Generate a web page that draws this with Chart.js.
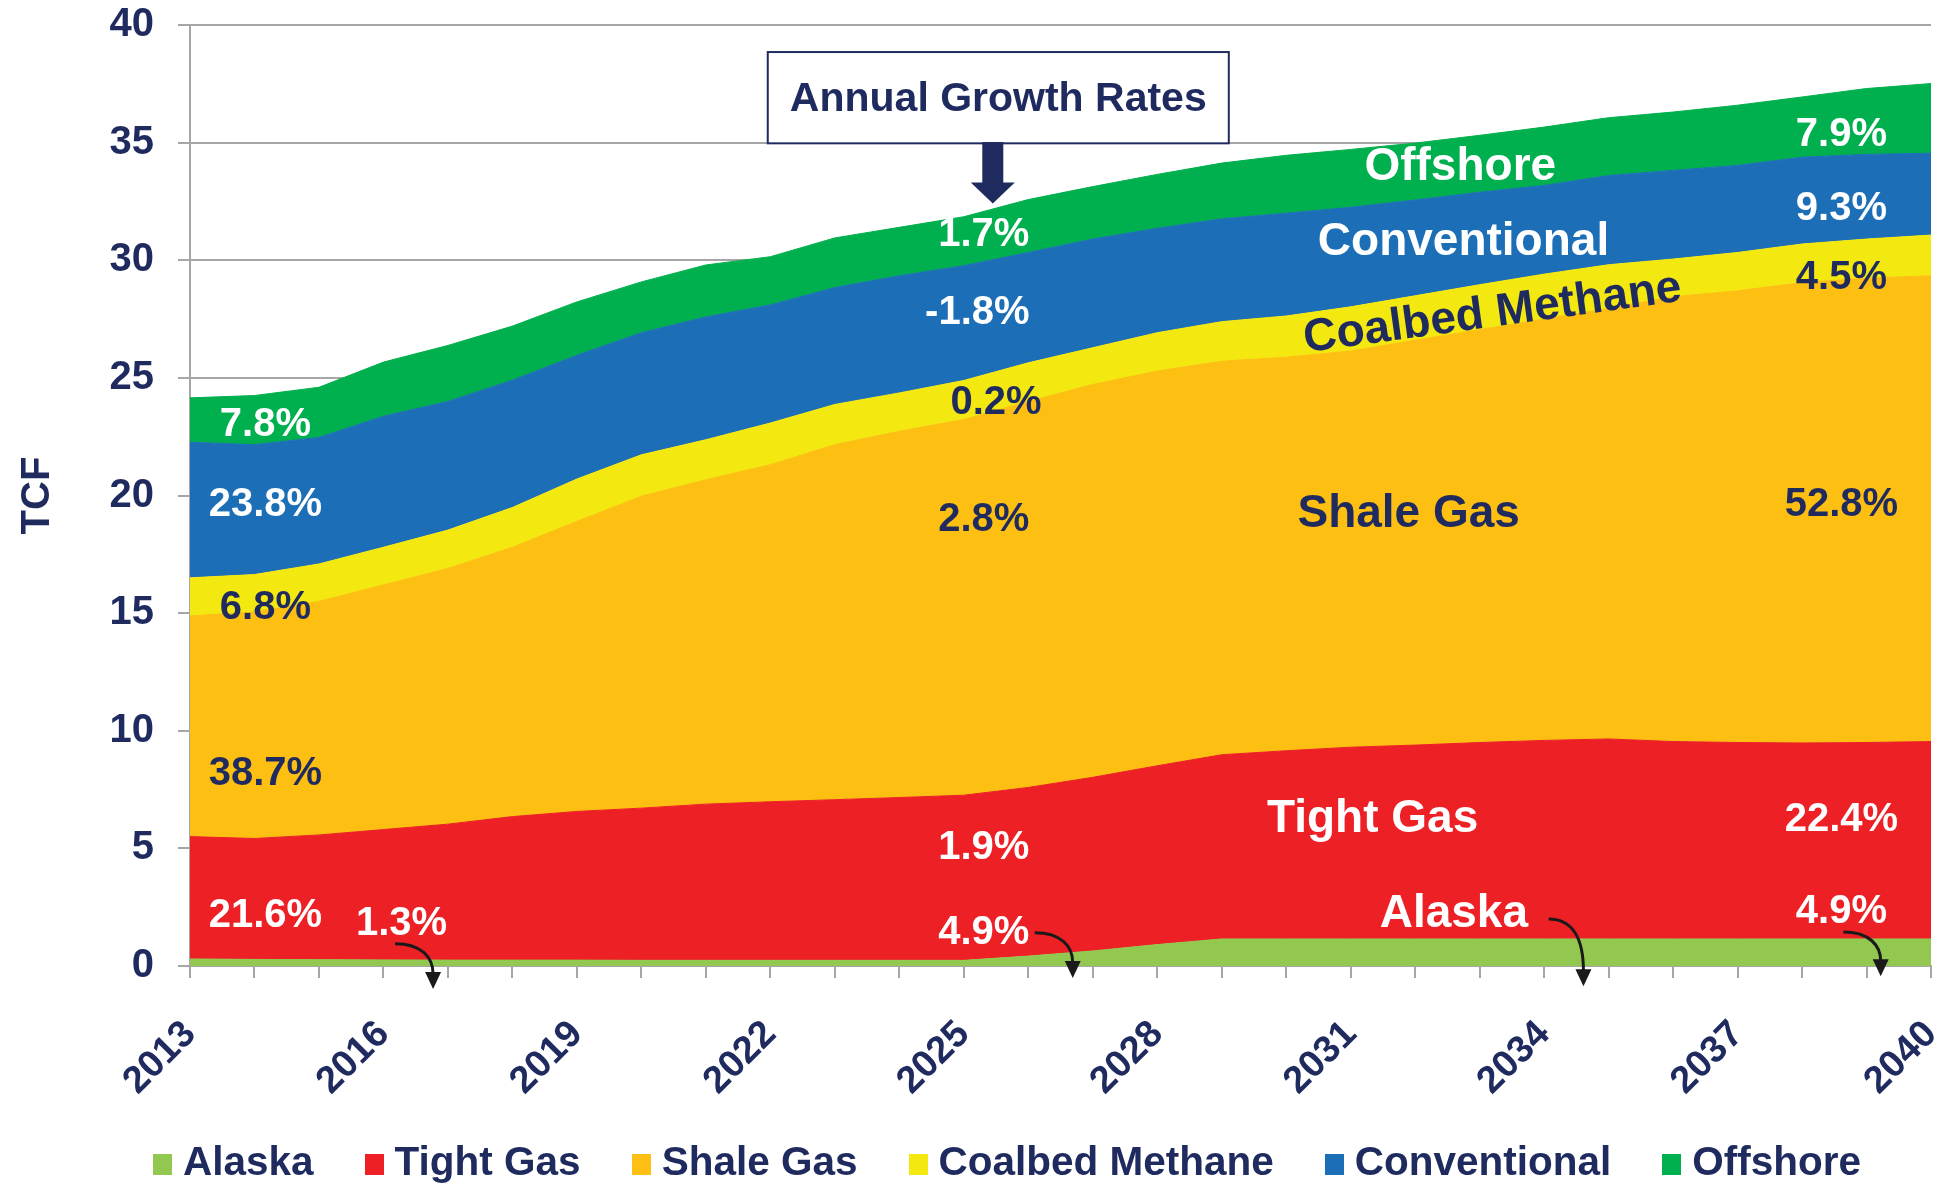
<!DOCTYPE html>
<html>
<head>
<meta charset="utf-8">
<title>Natural gas production by source</title>
<script src="https://cdn.jsdelivr.net/npm/chart.js@4.4.0/dist/chart.umd.min.js"></script>
<style>
    body { margin: 0; background: #ffffff; }
    #wrap { position: relative; width: 1955px; height: 1183px; }
    .custom-legend {
        position: absolute; left: 153px; top: 1138px;
        margin: 0; padding: 0; list-style: none; display: flex;
        font: bold 40.5px "Liberation Sans", Arial, sans-serif; color: #1F2A5E;
    }
    .custom-legend li { display: flex; align-items: center; margin-right: 51px; line-height: 46px; white-space: nowrap; }
    .legend-color { display: inline-block; width: 19px; height: 21px; margin-right: 11px; position: relative; top: 3px; }
</style>
</head>
<body>
<div id="wrap">
    <canvas id="gas"></canvas>
    <ul class="custom-legend"></ul>
</div>
<script>
const years = ['2013', '2014', '2015', '2016', '2017', '2018', '2019', '2020', '2021', '2022',
    '2023', '2024', '2025', '2026', '2027', '2028', '2029', '2030', '2031', '2032',
    '2033', '2034', '2035', '2036', '2037', '2038', '2039', '2040'];

const seriesNames = ['Alaska', 'Tight Gas', 'Shale Gas', 'Coalbed Methane', 'Conventional', 'Offshore'];
const seriesColors = ['#92C850', '#ED2026', '#FCBF12', '#F4E811', '#1C6FB7', '#00B04E'];

// TCF per year
const alaska = [0.30, 0.28, 0.27, 0.26, 0.25, 0.25, 0.25, 0.24, 0.24, 0.24, 0.24, 0.24, 0.24, 0.42,
    0.64, 0.91, 1.15, 1.15, 1.15, 1.15, 1.15, 1.15, 1.15, 1.15, 1.15, 1.15, 1.15, 1.15];
const tightGas = [5.20, 5.14, 5.30, 5.54, 5.78, 6.10, 6.32, 6.47, 6.64, 6.74, 6.83, 6.92, 7.02, 7.17,
    7.38, 7.60, 7.83, 8.00, 8.15, 8.24, 8.35, 8.44, 8.50, 8.39, 8.35, 8.33, 8.35, 8.39];
const shaleGas = [9.38, 9.63, 9.93, 10.40, 10.87, 11.45, 12.33, 13.26, 13.79, 14.33, 15.09, 15.57, 15.97, 16.41,
    16.70, 16.78, 16.73, 16.73, 16.84, 17.21, 17.55, 17.91, 18.30, 18.91, 19.20, 19.57, 19.74, 19.80];
const coalbedMethane = [1.62, 1.59, 1.59, 1.60, 1.63, 1.69, 1.80, 1.76, 1.70, 1.77, 1.71, 1.63, 1.66, 1.64,
    1.56, 1.63, 1.68, 1.75, 1.88, 1.89, 1.91, 1.91, 1.86, 1.60, 1.63, 1.64, 1.66, 1.73];
const conventional = [5.76, 5.52, 5.38, 5.57, 5.47, 5.41, 5.26, 5.19, 5.22, 5.02, 4.97, 4.98, 4.88, 4.69,
    4.62, 4.44, 4.37, 4.37, 4.23, 4.07, 3.93, 3.77, 3.79, 3.77, 3.70, 3.69, 3.60, 3.48];
const offshore = [1.89, 2.09, 2.13, 2.30, 2.38, 2.30, 2.27, 2.16, 2.21, 2.05, 2.11, 2.06, 2.08, 2.25,
    2.23, 2.29, 2.37, 2.46, 2.46, 2.42, 2.42, 2.48, 2.46, 2.48, 2.56, 2.56, 2.80, 2.96];

const yTicks = [0, 5, 10, 15, 20, 25, 30, 35, 40];

const navy = '#1F2A5E';
const gray = '#A6A6A6';
const fontFamily = '"Liberation Sans", Arial, sans-serif';

// annotations, placed in data units (year, TCF)
const labels = [
    { text: '7.8%', year: 2014.17, value: 22.98, color: '#fff', size: 40 },
    { text: '23.8%', year: 2014.17, value: 19.59, color: '#fff', size: 40 },
    { text: '6.8%', year: 2014.17, value: 15.22, color: navy, size: 40 },
    { text: '38.7%', year: 2014.17, value: 8.15, color: navy, size: 40 },
    { text: '21.6%', year: 2014.17, value: 2.14, color: '#fff', size: 40 },
    { text: '1.3%', year: 2016.28, value: 1.77, color: '#fff', size: 40 },
    { text: '1.7%', year: 2025.31, value: 31.07, color: '#fff', size: 40 },
    { text: '-1.8%', year: 2025.21, value: 27.77, color: '#fff', size: 40 },
    { text: '0.2%', year: 2025.50, value: 23.94, color: navy, size: 40 },
    { text: '2.8%', year: 2025.31, value: 18.95, color: navy, size: 40 },
    { text: '1.9%', year: 2025.31, value: 5.02, color: '#fff', size: 40 },
    { text: '4.9%', year: 2025.31, value: 1.41, color: '#fff', size: 40 },
    { text: 'Offshore', year: 2032.70, value: 33.94, color: '#fff', size: 46 },
    { text: 'Conventional', year: 2032.75, value: 30.75, color: '#fff', size: 46 },
    { text: 'Coalbed Methane', year: 2033.20, value: 27.72, color: navy, size: 46, angle: -7.8 },
    { text: 'Shale Gas', year: 2031.90, value: 19.21, color: navy, size: 46 },
    { text: 'Tight Gas', year: 2031.34, value: 6.24, color: '#fff', size: 46 },
    { text: 'Alaska', year: 2032.60, value: 2.20, color: '#fff', size: 46 },
    { text: '7.9%', year: 2038.61, value: 35.32, color: '#fff', size: 40 },
    { text: '9.3%', year: 2038.61, value: 32.19, color: '#fff', size: 40 },
    { text: '4.5%', year: 2038.61, value: 29.26, color: navy, size: 40 },
    { text: '52.8%', year: 2038.61, value: 19.58, color: navy, size: 40 },
    { text: '22.4%', year: 2038.61, value: 6.19, color: '#fff', size: 40 },
    { text: '4.9%', year: 2038.61, value: 2.30, color: '#fff', size: 40 }
];

// curved pointers from labels down to the Alaska band
const pointers = [
    { from: [2016.18, 0.95], to: [2016.77, -0.98] },
    { from: [2026.10, 1.41], to: [2026.69, -0.51] },
    { from: [2034.07, 2.00], to: [2034.61, -0.86] },
    { from: [2038.64, 1.44], to: [2039.22, -0.44] }
];

const growthBox = { text: 'Annual Growth Rates', left: 2021.96, right: 2029.11, top: 38.85, bottom: 34.97 };
const growthArrow = { year: 2025.45, top: 35.03, headTop: 33.3, tip: 32.41 };

function px(chart, year) { return chart.scales.x.getPixelForValue(year - 2013); }
function py(chart, value) { return chart.scales.y.getPixelForValue(value); }

const annotationPlugin = {
    id: 'annotations',
    afterDraw(chart) {
        const ctx = chart.ctx;
        ctx.save();

        labels.forEach(l => {
            ctx.save();
            ctx.translate(px(chart, l.year), py(chart, l.value));
            if (l.angle) ctx.rotate(l.angle * Math.PI / 180);
            ctx.font = `bold ${l.size}px ${fontFamily}`;
            ctx.fillStyle = l.color;
            ctx.textAlign = 'center';
            ctx.textBaseline = 'middle';
            ctx.fillText(l.text, 0, 0);
            ctx.restore();
        });

        // growth rates box
        const bx = px(chart, growthBox.left), by = py(chart, growthBox.top);
        const bw = px(chart, growthBox.right) - bx, bh = py(chart, growthBox.bottom) - by;
        ctx.fillStyle = '#fff';
        ctx.fillRect(bx, by, bw, bh);
        ctx.strokeStyle = navy;
        ctx.lineWidth = 2;
        ctx.strokeRect(bx, by, bw, bh);
        ctx.fillStyle = navy;
        ctx.font = `bold 41px ${fontFamily}`;
        ctx.textAlign = 'center';
        ctx.textBaseline = 'middle';
        ctx.fillText(growthBox.text, bx + bw / 2, by + bh / 2 + 2);

        // block arrow under the box
        const ax = px(chart, growthArrow.year);
        const aTop = py(chart, growthArrow.top), aHead = py(chart, growthArrow.headTop), aTip = py(chart, growthArrow.tip);
        ctx.beginPath();
        ctx.moveTo(ax - 10.5, aTop);
        ctx.lineTo(ax + 10.5, aTop);
        ctx.lineTo(ax + 10.5, aHead);
        ctx.lineTo(ax + 22, aHead);
        ctx.lineTo(ax, aTip);
        ctx.lineTo(ax - 22, aHead);
        ctx.lineTo(ax - 10.5, aHead);
        ctx.closePath();
        ctx.fillStyle = navy;
        ctx.fill();

        // curved pointers
        pointers.forEach(p => {
            const x0 = px(chart, p.from[0]), y0 = py(chart, p.from[1]);
            const x1 = px(chart, p.to[0]), y1 = py(chart, p.to[1]);
            const head = 17;
            ctx.beginPath();
            ctx.moveTo(x0, y0);
            ctx.bezierCurveTo(x0 + (x1 - x0) * 0.7, y0, x1, y0 + (y1 - y0) * 0.3, x1, y1 - head + 2);
            ctx.strokeStyle = '#1A1A1A';
            ctx.lineWidth = 3;
            ctx.stroke();
            ctx.beginPath();
            ctx.moveTo(x1, y1);
            ctx.lineTo(x1 - 8, y1 - head);
            ctx.lineTo(x1 + 8, y1 - head);
            ctx.closePath();
            ctx.fillStyle = '#1A1A1A';
            ctx.fill();
        });

        ctx.restore();
    }
};

document.addEventListener('DOMContentLoaded', function() {
    const canvas = document.getElementById('gas');
    const series = [alaska, tightGas, shaleGas, coalbedMethane, conventional, offshore];

    const data = {
        labels: years,
        datasets: series.map((values, i) => ({
            label: seriesNames[i],
            data: values,
            backgroundColor: seriesColors[i],
            borderColor: seriesColors[i],
            borderWidth: 1,
            pointRadius: 0,
            tension: 0,
            fill: i === 0 ? 'origin' : '-1'
        }))
    };

    const options = {
        responsive: true,
        maintainAspectRatio: false,
        animation: false,
        events: [],
        layout: { padding: { top: 25, right: 24, left: 0, bottom: 77 } },
        plugins: {
            legend: { display: false },
            tooltip: { enabled: false }
        },
        scales: {
            x: {
                stacked: true,
                offset: false,
                grid: { drawOnChartArea: false, color: gray, lineWidth: 2, tickLength: 12 },
                border: { color: gray, width: 2 },
                ticks: {
                    autoSkip: false,
                    maxRotation: 45,
                    minRotation: 45,
                    padding: 34,
                    color: navy,
                    font: { family: fontFamily, size: 38, weight: 'bold' },
                    callback: (v, i) => (i % 3 === 0 ? years[i] : '')
                },
                afterFit: s => { s.height = 140; s.paddingLeft = 0; s.paddingRight = 0; }
            },
            y: {
                stacked: true,
                min: yTicks[0],
                max: yTicks[yTicks.length - 1],
                afterBuildTicks: s => { s.ticks = yTicks.map(v => ({ value: v })); },
                grid: { color: gray, lineWidth: 2, tickLength: 12 },
                border: { color: gray, width: 2 },
                ticks: {
                    padding: 24,
                    color: navy,
                    font: { family: fontFamily, size: 40, weight: 'bold' }
                },
                title: {
                    display: true,
                    text: 'TCF',
                    color: navy,
                    padding: { top: 14, bottom: 0 },
                    font: { family: fontFamily, size: 40, weight: 'bold' }
                },
                afterFit: s => { s.width = 190; s.paddingTop = 0; s.paddingBottom = 0; }
            }
        }
    };

    new Chart(canvas.getContext('2d'), {
        type: 'line',
        data: data,
        options: options,
        plugins: [annotationPlugin]
    });

    // legend below the chart
    const legendContainer = document.querySelector('.custom-legend');
    legendContainer.innerHTML = createLegendHTML(seriesNames, seriesColors);
});

function createLegendHTML(names, colors) {
    let legendHTML = '';
    for (let i = 0; i < names.length; i++) {
        legendHTML += `<li><span class="legend-color" style="background-color: ${colors[i]}"></span>${names[i]}</li>`;
    }
    return legendHTML;
}
</script>
</body>
</html>
